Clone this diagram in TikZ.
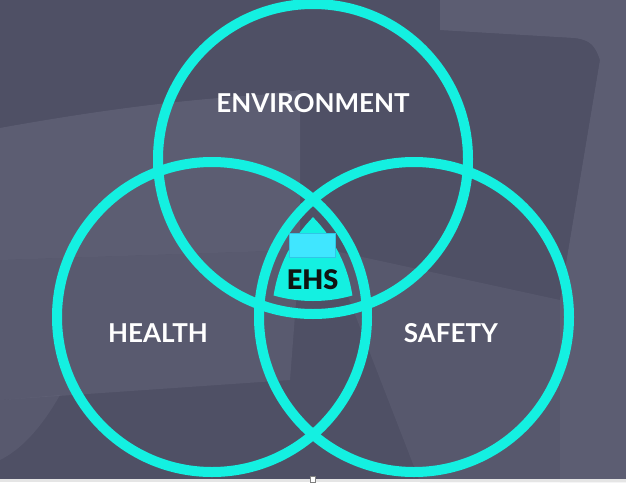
\documentclass[tikz,border=0pt]{standalone}
\usepackage{fontspec}
\setmainfont{Lato}
\newfontfamily\ehsfont{Lato Black}
\definecolor{bgdark}{HTML}{4F5065}
\definecolor{bglight}{HTML}{66677C}
\definecolor{ring}{HTML}{14F0E1}
\definecolor{boxblue}{HTML}{40E6FF}
\definecolor{boxedge}{HTML}{2FC6E6}
\definecolor{ehstext}{HTML}{101412}
\tikzset{
  venn/.style={draw=ring, line width=10pt},
  label/.style={text=white, font=\fontsize{26}{26}\selectfont\bfseries, inner sep=0pt},
  ehslabel/.style={text=ehstext, font=\ehsfont\fontsize{27}{27}\selectfont, inner sep=0pt},
}
\begin{document}
\begin{tikzpicture}[x=1pt,y=-1pt]
\useasboundingbox (0,0) rectangle (626,482);
% background
\fill[bgdark] (0,0) rectangle (626,482);
\fill[bglight, opacity=0.6] (0,128) .. controls (100,110) and (180,100) .. (260,95) -- (300,90) -- (300,250) -- (0,260) -- cycle;
\fill[bglight, opacity=0.45] (0,260) -- (300,250) -- (290,380) -- (0,400) -- cycle;
\fill[bglight, opacity=0.4] (0,400) -- (60,395) .. controls (40,430) and (20,450) .. (0,460) -- cycle;
\fill[bglight, opacity=0.6] (440,0) -- (626,0) -- (626,482) -- (560,482) -- (560,300) -- (600,60) .. controls (595,45) and (590,40) .. (575,38) -- (440,30) -- cycle;
\fill[bglight, opacity=0.35] (330,250) -- (560,300) -- (560,482) -- (420,482) -- cycle;
\fill[gray!20] (0,479) rectangle (626,482);
\node[draw=gray, fill=white, line width=0.4pt, minimum width=5pt, minimum height=6pt, inner sep=0pt, anchor=north] (handle) at (313,476) {};
% circles
\coordinate (cE) at (313,159);
\coordinate (cH) at (212,317);
\coordinate (cS) at (414,317);
\draw[venn] (cE) circle[radius=155pt];
\draw[venn] (cH) circle[radius=155pt];
\draw[venn] (cS) circle[radius=155pt];
% central region
\begin{scope}
  \clip (cE) circle[radius=142pt];
  \clip (cH) circle[radius=142pt];
  \fill[ring] (cS) circle[radius=142pt];
\end{scope}
\node[draw=boxedge, fill=boxblue, line width=0.6pt, minimum width=46pt, minimum height=24pt, inner sep=0pt] (box) at (312.5,245.3) {};
% labels
\node[label] (env) at (313,103) {ENVIRONMENT};
\node[label] (health) at (158,333) {HEALTH};
\node[label] (safety) at (451,333) {SAFETY};
\node[ehslabel] (ehs) at (312.5,279.5) {EHS};
\end{tikzpicture}
\end{document}
